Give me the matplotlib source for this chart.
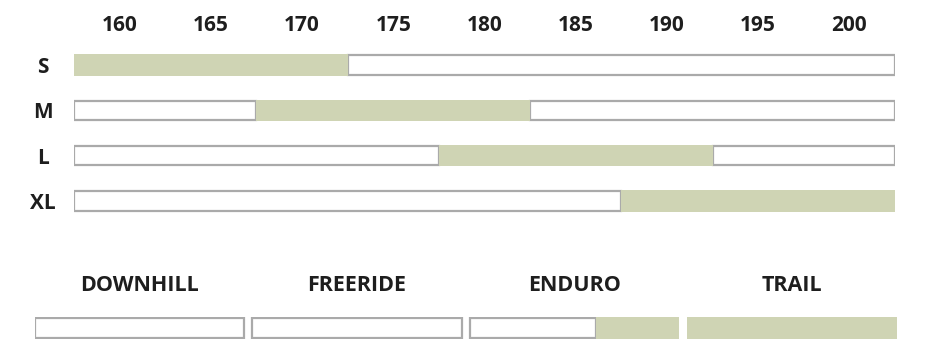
import matplotlib
matplotlib.use("Agg")
import matplotlib.pyplot as plt

# ---- data ----
sizes = ["S", "M", "L", "XL"]
height_min = [157.5, 167.5, 177.5, 187.5]
height_max = [172.5, 182.5, 192.5, 202.5]
x_ticks = [160, 165, 170, 175, 180, 185, 190, 195, 200]
scale_min, scale_max = 157.5, 202.5

activities = ["DOWNHILL", "FREERIDE", "ENDURO", "TRAIL"]
activity_fill = [0.0, 0.0, 0.4, 1.0]   # fraction filled (from the right)

GREEN = "#cfd4b4"
EDGE = "#aaaaaa"
TXT = "#1e1e1e"
FONT = ["Open Sans", "DejaVu Sans"]

W, H = 927, 352
fig = plt.figure(figsize=(W / 100, H / 100), dpi=100)

def px_axes(x0, x1, y0, y1):
    return fig.add_axes([x0 / W, 1 - y1 / H, (x1 - x0) / W, (y1 - y0) / H])

# ---- size chart ----
ax = px_axes(74, 895, 42.5, 223.5)
ax.set_xlim(scale_min, scale_max)
ax.set_ylim(len(sizes) - 0.5, -0.5)
gh, wh = 0.48, 0.43
for i, s in enumerate(sizes):
    lo, hi = height_min[i], height_max[i]
    if lo > scale_min:
        ax.barh(i, lo - scale_min, left=scale_min, height=wh, color="white",
                edgecolor=EDGE, linewidth=1.6, zorder=2)
    if hi < scale_max:
        ax.barh(i, scale_max - hi, left=hi, height=wh, color="white",
                edgecolor=EDGE, linewidth=1.6, zorder=2)
    ax.barh(i, hi - lo, left=lo, height=gh, color=GREEN, linewidth=0, zorder=3)

ax.set_xticks(x_ticks)
ax.set_xticklabels([str(t) for t in x_ticks])
ax.xaxis.tick_top()
ax.tick_params(axis="x", length=0, pad=4.5, labelsize=15)
ax.set_yticks(range(len(sizes)))
ax.set_yticklabels(sizes)
ax.tick_params(axis="y", length=0, pad=22.5, labelsize=15)
for lab in ax.get_yticklabels():
    lab.set_horizontalalignment("center")
for lab in ax.get_xticklabels() + ax.get_yticklabels():
    lab.set_family(FONT)
    lab.set_weight("bold")
    lab.set_color(TXT)
for sp in ax.spines.values():
    sp.set_visible(False)

# ---- activity row ----
bx = px_axes(35, 905, 317, 339)
bx.set_xlim(0, 4)
bx.set_ylim(0, 1)
bw = 0.962
for i, a in enumerate(activities):
    f = activity_fill[i]
    if f < 1:
        bx.barh(0.5, bw * (1 - f), left=i, height=0.88, color="white",
                edgecolor=EDGE, linewidth=1.6, zorder=2)
    if f > 0:
        bx.barh(0.5, bw * f, left=i + bw * (1 - f), height=0.98, color=GREEN,
                linewidth=0, zorder=3)
bx.set_xticks([i + bw / 2 for i in range(len(activities))])
bx.set_xticklabels(activities)
bx.xaxis.tick_top()
bx.tick_params(axis="x", length=0, pad=15, labelsize=15.5)
bx.set_yticks([])
for lab in bx.get_xticklabels():
    lab.set_family(FONT)
    lab.set_weight("bold")
    lab.set_color(TXT)
for sp in bx.spines.values():
    sp.set_visible(False)

fig.savefig("out.png", dpi=100, facecolor="white")
